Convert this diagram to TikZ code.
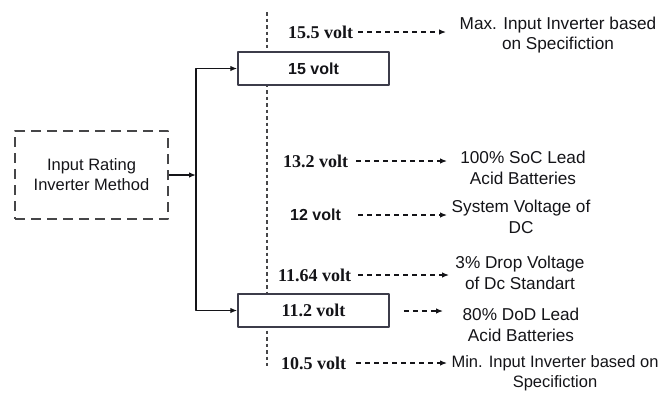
\documentclass[tikz,border=0pt]{standalone}
\usepackage{fontspec}
\setmainfont{Liberation Serif}
\setsansfont{Liberation Sans}
\usetikzlibrary{arrows.meta,positioning}
\definecolor{fg}{RGB}{20,20,24}
\definecolor{mu}{RGB}{70,70,72}
\definecolor{frame}{RGB}{60,60,74}
\tikzset{
  every picture/.style={fg, line join=round,
    >={Latex[length=7pt,width=5.5pt]}},
  % Linientypen
  guide/.style={mu, line width=2.2pt, dash pattern=on 3.5pt off 3pt},
  feed/.style={line width=1.3pt, ->},
  lead/.style={line width=1.2pt, dash pattern=on 5pt off 4pt, ->},
  % Kästen
  inbox/.style={draw=mu, line width=1.5pt, dash pattern=on 10pt off 6pt,
    minimum width=153pt, minimum height=88pt, align=center, font=\sansdesc},
  vbox/.style={draw=frame, fill=white, line width=1.5pt,
    minimum width=151pt, minimum height=33pt, inner sep=0pt},
  % Beschriftung
  vlab/.style={inner sep=0pt, anchor=west, font=\bfseries\fontsize{18}{20}\selectfont},
  vsans/.style={font=\sffamily\bfseries\fontsize{16}{18}\selectfont},
  desc/.style={inner sep=0pt, align=center, font=\sffamily\fontsize{17.2}{20.5}\selectfont},
}
\newcommand{\sansdesc}{\sffamily\fontsize{16.5}{20}\selectfont}

\begin{document}
\begin{tikzpicture}[x=1pt, y=-1pt]
  \useasboundingbox (0,0) rectangle (662,392);
  % Spannungsachse (gepunktet, hinter den Kästen)
  \draw[guide] (267,12) -- (267,366);

  % Eingang und Verzweigung
  \node[inbox] (inp) at (91.5,175) {Input Rating\\Inverter Method};
  \node[vbox, vsans] (b15) at (313.5,68.5) {15 volt};
  \node[vbox, vlab, anchor=center] (b112) at (313.5,310.5) {11.2 volt};
  \coordinate (split) at (196,175);
  \draw[feed] (inp.east) -- (split);
  \draw[feed] (split) |- (b15.west);
  \draw[feed] (split) |- (b112.west);

  % Spannungswerte
  \node[vlab] (v155) at (288,32) {15.5 volt};
  \node[vlab] (v132) at (283,161) {13.2 volt};
  \node[vlab, vsans] (v12) at (290,215) {12 volt};
  \node[vlab] (v1164) at (278,275) {11.64 volt};
  \node[vlab] (v105) at (281,363) {10.5 volt};

  % Erläuterungen
  \node[desc] (d155) at (558,35) {Max. Input Inverter based\\on Specifiction};
  \node[desc] (d132) at (523,168) {100\% SoC Lead\\Acid Batteries};
  \node[desc] (d12) at (521,217) {System Voltage of\\DC};
  \node[desc] (d1164) at (520,273) {3\% Drop Voltage\\of Dc Standart};
  \node[desc] (d112) at (521,325) {80\% DoD Lead\\Acid Batteries};
  \node[desc, font=\sansdesc] (d105) at (555,373) {Min. Input Inverter based on\\Specifiction};

  % Pfeilenden
  \coordinate (e155) at (446,32);
  \coordinate (e132) at (447,161);
  \coordinate (e12) at (447,215);
  \coordinate (e1164) at (449,275);
  \coordinate (e112) at (443,311);
  \coordinate (e105) at (447,363);
  \draw[lead] ([xshift=5pt]v155.east) -- (e155);
  \draw[lead] ([xshift=8pt]v132.east) -- (e132);
  \draw[lead] ([xshift=17pt]v12.east) -- (e12);
  \draw[lead] ([xshift=7pt]v1164.east) -- (e1164);
  \draw[lead] ([xshift=14pt]b112.east |- e112) -- (e112);
  \draw[lead] ([xshift=10pt]v105.east) -- (e105);
\end{tikzpicture}
\end{document}
